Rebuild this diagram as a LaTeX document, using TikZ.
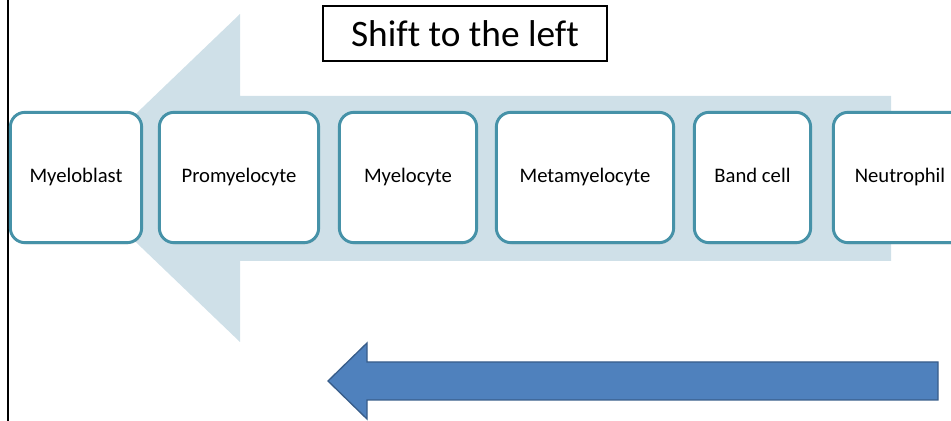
\documentclass[tikz,border=0pt]{standalone}
\usepackage{fontspec}
\setmainfont[Ligatures = NoCommon]{Carlito}
\usepackage{xcolor}
\usepackage{tikz}
\usetikzlibrary{positioning,shadows}

\definecolor{shiftpale}{RGB}{207,224,232}
\definecolor{cellrim}{RGB}{70,146,168}
\definecolor{arrowfill}{RGB}{79,129,189}
\definecolor{arrowrim}{RGB}{56,93,138}

\tikzset{
    cellbox/.style = {draw = cellrim, line width = 2.2pt, fill = white,
                      rounded corners = 11pt, minimum height = 97.75pt,
                      inner sep = 0pt, text height = 11pt, text depth = 3.5pt,
                      font = \fontsize{15.5}{18}\selectfont,
                      drop shadow = {opacity = 0.25, shadow xshift = 0.6pt, shadow yshift = -1.2pt}},
    titlebox/.style = {draw, line width = 1.3pt, fill = white,
                       minimum width = 213pt, minimum height = 41.5pt,
                       font = \fontsize{28}{32}\selectfont}
}

\begin{document}
\begin{tikzpicture}[x = 0.75pt, y = 0.75pt]
    \useasboundingbox (0,0) rectangle (951,421);
    \clip (0,0) rectangle (951,421);
    \draw[line width = 1.8pt] (8,0) -- (8,421);
    % pale arrow behind the cells
    \fill[shiftpale] (69,243) -- (240,407) -- (240,325) -- (891,325)
        -- (891,160) -- (240,160) -- (240,79) -- cycle;
    % maturation cells
    \node[cellbox, minimum width = 98.5pt]  (blast)  at (76,243.5)  {Myeloblast};
    \node[cellbox, minimum width = 119.5pt] (promy)  at (239,243.5) {Promyelocyte};
    \node[cellbox, minimum width = 103pt]   (myelo)  at (408,243.5) {Myelocyte};
    \node[cellbox, minimum width = 133pt]   (meta)   at (585,243.5) {Metamyelocyte};
    \node[cellbox, minimum width = 87.25pt] (band)   at (752.5,243.5) {Band cell};
    \node[cellbox, minimum width = 100pt]   (neutro) at (900,243.5) {Neutrophil};
    \node[titlebox] (shift) at (465,387.5) {Shift to the left};
    % blue arrow
    \filldraw[fill = arrowfill, draw = arrowrim, line width = 1pt]
        (328,40) -- (367,78) -- (367,59) -- (938,59)
        -- (938,21) -- (367,21) -- (367,2) -- cycle;
\end{tikzpicture}
\end{document}
